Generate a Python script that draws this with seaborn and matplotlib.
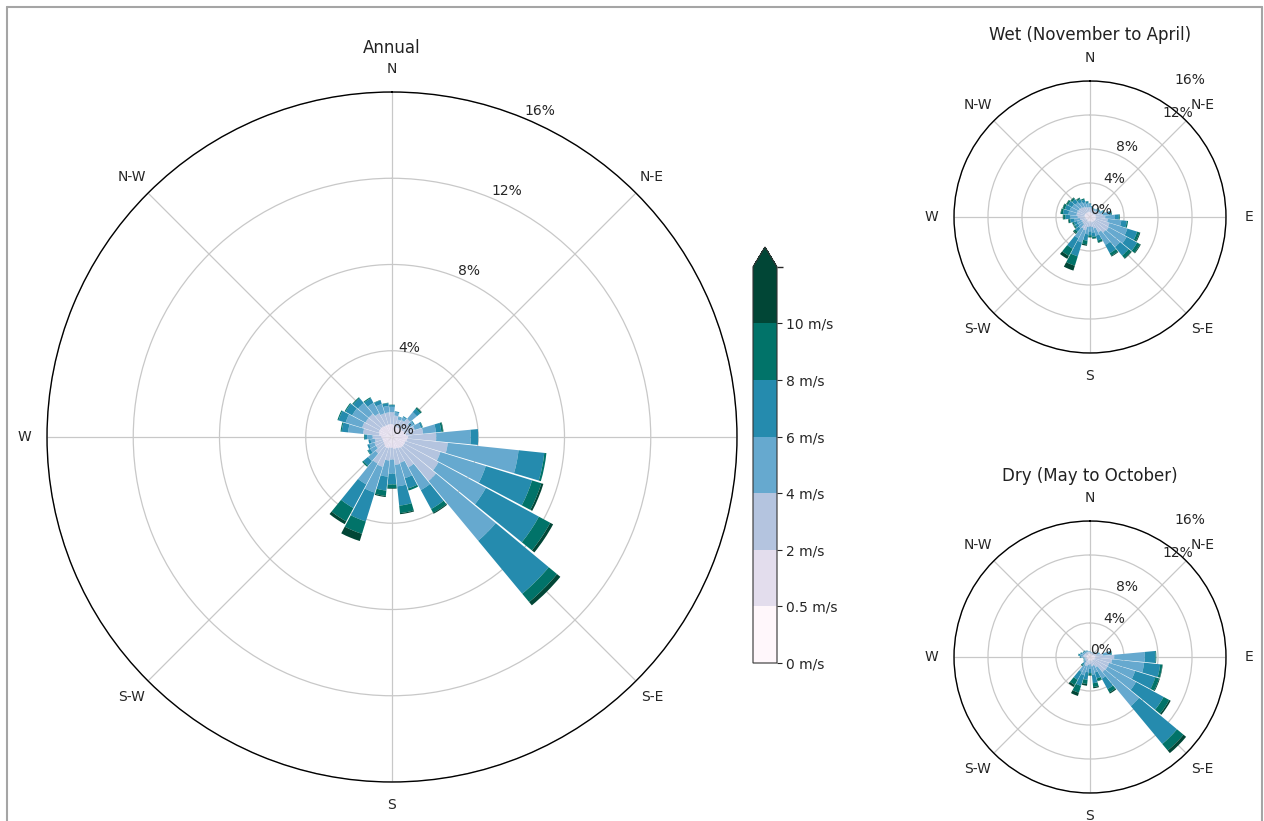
import numpy as np
import matplotlib
matplotlib.use("Agg")
import matplotlib.pyplot as plt
import seaborn as sns
from matplotlib.colors import ListedColormap, BoundaryNorm
from matplotlib.cm import ScalarMappable
from matplotlib.lines import Line2D

sns.set_theme(style="white")
plt.rcParams["font.family"] = ["DejaVu Sans"]

# ---------------------------------------------------------------------------
# Wind direction sectors (degrees clockwise from north) and speed classes
# ---------------------------------------------------------------------------
directions = [0.0, 11.25, 22.5, 33.75, 45.0, 56.25, 67.5, 78.75,
              90.0, 101.25, 112.5, 123.75, 135.0, 146.25, 157.5, 168.75,
              180.0, 191.25, 202.5, 213.75, 225.0, 236.25, 247.5, 258.75,
              270.0, 281.25, 292.5, 303.75, 315.0, 326.25, 337.5, 348.75]
speed_bounds = [0, 0.5, 2, 4, 6, 8, 10]
speed_labels = ["0 m/s", "0.5 m/s", "2 m/s", "4 m/s", "6 m/s", "8 m/s", "10 m/s"]
compass_angles = [0, 45, 90, 135, 180, 225, 270, 315]
compass_labels = ["N", "N-E", "E", "S-E", "S", "S-W", "W", "N-W"]
radial_ticks = [0, 4, 8, 12, 16]
radial_labels = ["0%", "4%", "8%", "12%", "16%"]

# Where each percentage label sits: (bearing in degrees, radius in %)
annual_label_spots = [(22.5, 0), (4.2, 3.8), (22.5, 8), (22.5, 12), (22.5, 16)]
season_label_spots = [(22.5, 0), (22.5, 4), (22.5, 8), (36.6, 14.2), (32.9, 18.2)]

# ---------------------------------------------------------------------------
# Frequency (%) per sector for each speed class -- annual
# ---------------------------------------------------------------------------
annual_0_05 = [0.05, 0.05, 0.05, 0.05, 0.05, 0.05, 0.05, 0.05, 0.05, 0.05, 0.05, 0.05, 0.05, 0.05, 0.05, 0.05,
               0.05, 0.05, 0.05, 0.05, 0.05, 0.05, 0.05, 0.05, 0.05, 0.05, 0.05, 0.05, 0.05, 0.05, 0.05, 0.05]
annual_05_2 = [0.55, 0.50, 0.45, 0.45, 0.50, 0.50, 0.55, 0.60, 0.70, 0.65, 0.60, 0.60, 0.60, 0.55, 0.50, 0.50,
               0.45, 0.45, 0.50, 0.50, 0.45, 0.40, 0.40, 0.40, 0.45, 0.55, 0.60, 0.60, 0.60, 0.55, 0.55, 0.55]
annual_2_4 = [0.55, 0.45, 0.35, 0.40, 0.55, 0.40, 0.50, 0.80, 1.30, 1.90, 1.70, 1.80, 2.00, 1.00, 0.70, 0.75,
              0.55, 0.60, 0.90, 0.85, 0.50, 0.40, 0.40, 0.35, 0.40, 0.75, 0.80, 0.75, 0.75, 0.65, 0.55, 0.55]
annual_4_6 = [0.25, 0.15, 0.12, 0.15, 0.40, 0.20, 0.30, 0.60, 1.60, 3.30, 2.20, 2.50, 3.60, 1.20, 0.75, 1.00,
              0.65, 0.75, 1.25, 1.10, 0.45, 0.30, 0.25, 0.20, 0.25, 0.70, 0.80, 0.70, 0.65, 0.55, 0.45, 0.30]
annual_6_8 = [0.08, 0.05, 0.03, 0.05, 0.20, 0.05, 0.08, 0.25, 0.35, 1.20, 2.25, 2.80, 3.20, 1.00, 0.50, 0.90,
              0.50, 0.65, 1.40, 1.25, 0.28, 0.12, 0.10, 0.10, 0.12, 0.30, 0.35, 0.35, 0.30, 0.25, 0.18, 0.13]
annual_8_10 = [0.02, 0.00, 0.00, 0.00, 0.08, 0.00, 0.02, 0.08, 0.00, 0.10, 0.45, 0.60, 0.50, 0.20, 0.10, 0.35,
               0.17, 0.25, 0.60, 0.70, 0.07, 0.03, 0.00, 0.00, 0.03, 0.05, 0.05, 0.05, 0.05, 0.05, 0.02, 0.02]
annual_10_up = [0.00, 0.00, 0.00, 0.00, 0.02, 0.00, 0.00, 0.02, 0.00, 0.00, 0.10, 0.15, 0.20, 0.05, 0.00, 0.05,
                0.03, 0.05, 0.35, 0.15, 0.00, 0.00, 0.00, 0.00, 0.00, 0.00, 0.00, 0.00, 0.00, 0.00, 0.00, 0.00]

# Wet season (November to April)
wet_0_05 = [0.05, 0.05, 0.05, 0.05, 0.05, 0.05, 0.05, 0.05, 0.05, 0.05, 0.05, 0.05, 0.05, 0.05, 0.05, 0.05,
            0.05, 0.05, 0.05, 0.05, 0.05, 0.05, 0.05, 0.05, 0.05, 0.05, 0.05, 0.05, 0.05, 0.05, 0.05, 0.05]
wet_05_2 = [0.55, 0.50, 0.45, 0.45, 0.50, 0.50, 0.55, 0.60, 0.65, 0.65, 0.65, 0.65, 0.65, 0.60, 0.55, 0.50,
            0.45, 0.45, 0.50, 0.50, 0.45, 0.45, 0.45, 0.50, 0.55, 0.60, 0.60, 0.60, 0.60, 0.55, 0.55, 0.55]
wet_2_4 = [0.55, 0.45, 0.40, 0.40, 0.45, 0.45, 0.60, 0.85, 1.10, 1.40, 1.70, 1.80, 1.70, 1.40, 0.80, 0.65,
           0.60, 0.70, 1.10, 1.00, 0.60, 0.55, 0.55, 0.65, 0.85, 0.95, 0.95, 0.90, 0.85, 0.75, 0.65, 0.55]
wet_4_6 = [0.30, 0.20, 0.15, 0.15, 0.25, 0.25, 0.40, 0.70, 1.10, 1.60, 2.20, 2.40, 2.20, 1.70, 0.90, 0.65,
           0.60, 0.85, 1.50, 1.30, 0.65, 0.55, 0.55, 0.65, 0.85, 0.95, 0.90, 0.85, 0.75, 0.65, 0.55, 0.45]
wet_6_8 = [0.12, 0.08, 0.05, 0.05, 0.12, 0.12, 0.15, 0.30, 0.50, 0.65, 1.20, 1.40, 1.30, 1.10, 0.60, 0.50,
           0.45, 0.75, 1.70, 1.40, 0.50, 0.40, 0.40, 0.50, 0.60, 0.65, 0.60, 0.55, 0.50, 0.40, 0.35, 0.25]
wet_8_10 = [0.03, 0.02, 0.00, 0.00, 0.03, 0.03, 0.05, 0.08, 0.10, 0.15, 0.30, 0.40, 0.40, 0.35, 0.25, 0.20,
            0.20, 0.45, 1.15, 0.95, 0.25, 0.15, 0.15, 0.20, 0.25, 0.25, 0.25, 0.20, 0.20, 0.15, 0.15, 0.05]
wet_10_up = [0.00, 0.00, 0.00, 0.00, 0.00, 0.00, 0.00, 0.02, 0.00, 0.00, 0.10, 0.10, 0.10, 0.10, 0.05, 0.05,
             0.05, 0.15, 0.60, 0.40, 0.10, 0.05, 0.05, 0.05, 0.05, 0.05, 0.05, 0.05, 0.05, 0.05, 0.00, 0.00]

# Dry season (May to October)
dry_0_05 = [0.05, 0.05, 0.05, 0.05, 0.05, 0.05, 0.05, 0.05, 0.05, 0.05, 0.05, 0.05, 0.05, 0.05, 0.05, 0.05,
            0.05, 0.05, 0.05, 0.05, 0.05, 0.05, 0.05, 0.05, 0.05, 0.05, 0.05, 0.05, 0.05, 0.05, 0.05, 0.05]
dry_05_2 = [0.35, 0.30, 0.30, 0.30, 0.35, 0.35, 0.45, 0.55, 0.60, 0.55, 0.50, 0.50, 0.45, 0.45, 0.40, 0.40,
            0.35, 0.35, 0.40, 0.40, 0.30, 0.30, 0.30, 0.30, 0.35, 0.40, 0.35, 0.35, 0.35, 0.35, 0.35, 0.35]
dry_2_4 = [0.20, 0.18, 0.18, 0.18, 0.25, 0.25, 0.40, 0.90, 2.20, 2.00, 1.80, 1.80, 1.80, 0.90, 0.60, 0.65,
           0.45, 0.55, 0.70, 0.60, 0.30, 0.25, 0.22, 0.22, 0.35, 0.40, 0.35, 0.28, 0.28, 0.25, 0.22, 0.20]
dry_4_6 = [0.08, 0.06, 0.06, 0.06, 0.12, 0.12, 0.22, 0.80, 3.60, 3.80, 3.20, 3.80, 5.20, 1.50, 0.85, 1.00,
           0.55, 0.85, 1.10, 0.95, 0.35, 0.20, 0.15, 0.15, 0.28, 0.35, 0.28, 0.20, 0.20, 0.17, 0.13, 0.08]
dry_6_8 = [0.02, 0.01, 0.01, 0.01, 0.03, 0.03, 0.08, 0.25, 1.25, 1.90, 2.50, 3.70, 5.80, 1.40, 0.75, 1.00,
           0.50, 0.90, 1.30, 1.05, 0.25, 0.08, 0.06, 0.06, 0.13, 0.15, 0.13, 0.10, 0.10, 0.07, 0.05, 0.02]
dry_8_10 = [0.00, 0.00, 0.00, 0.00, 0.00, 0.00, 0.00, 0.05, 0.10, 0.25, 0.45, 0.75, 1.00, 0.45, 0.30, 0.45,
            0.25, 0.50, 0.85, 0.70, 0.12, 0.02, 0.02, 0.02, 0.04, 0.05, 0.04, 0.02, 0.02, 0.01, 0.00, 0.00]
dry_10_up = [0.00, 0.00, 0.00, 0.00, 0.00, 0.00, 0.00, 0.00, 0.00, 0.05, 0.10, 0.20, 0.40, 0.15, 0.05, 0.15,
             0.05, 0.20, 0.40, 0.25, 0.03, 0.00, 0.00, 0.00, 0.00, 0.00, 0.00, 0.00, 0.00, 0.00, 0.00, 0.00]

annual_layers = [annual_0_05, annual_05_2, annual_2_4, annual_4_6, annual_6_8, annual_8_10, annual_10_up]
wet_layers = [wet_0_05, wet_05_2, wet_2_4, wet_4_6, wet_6_8, wet_8_10, wet_10_up]
dry_layers = [dry_0_05, dry_05_2, dry_2_4, dry_4_6, dry_6_8, dry_8_10, dry_10_up]

# One colour per speed class, sampled across the PuBuGn map
pubugn = sns.color_palette("PuBuGn", as_cmap=True)
speed_colors = [pubugn(v) for v in np.linspace(0, 1, len(annual_layers))]

W, H = 1264, 821
fig = plt.figure(figsize=(W / 100, H / 100), dpi=100)
fig.patch.set_facecolor("white")


def px_box(x0, y0, x1, y1):
    """Figure-fraction rectangle from pixel corners (top-left origin)."""
    return [x0 / W, (H - y1) / H, (x1 - x0) / W, (y1 - y0) / H]


def draw_rose(rect, layers, title, title_y, label_spots):
    ax = fig.add_axes(rect, projection="polar")
    ax.set_theta_zero_location("N")
    ax.set_theta_direction(-1)
    theta = np.deg2rad(directions)
    width = np.deg2rad(11.25) * 0.94
    bottom = np.zeros(len(directions))
    for values, color in zip(layers, speed_colors):
        vals = np.asarray(values)
        ax.bar(theta, vals, width=width, bottom=bottom, color=color,
               edgecolor="none", linewidth=0, zorder=2)
        bottom = bottom + vals
    ax.set_ylim(0, 16)
    ax.set_xticks(np.deg2rad(compass_angles))
    ax.set_xticklabels(compass_labels, fontsize=10)
    # radial grid circles from the ticks, percentage labels drawn above the bars
    ax.set_yticks(radial_ticks)
    ax.set_yticklabels([])
    for (bearing, r), lab in zip(label_spots, radial_labels):
        ax.text(np.deg2rad(bearing), r, lab, ha="left", va="bottom",
                fontsize=10, color="#262626", zorder=5, clip_on=False)
    ax.tick_params(axis="x", length=0, pad=9.4)
    ax.grid(True, color="#c8c8c8", linewidth=0.9)
    ax.set_axisbelow(True)
    ax.spines["polar"].set_color("black")
    ax.spines["polar"].set_linewidth(1.0)
    ax.set_facecolor("white")
    ax.set_title(title, y=title_y, va="center", pad=0, fontsize=12, color="#222222")
    return ax


ax_annual = draw_rose(px_box(47, 92, 737, 782), annual_layers, "Annual", 1.064,
                      annual_label_spots)
ax_wet = draw_rose(px_box(954, 81, 1226, 353), wet_layers, "Wet (November to April)", 1.169,
                   season_label_spots)
ax_dry = draw_rose(px_box(954, 521, 1226, 793), dry_layers, "Dry (May to October)", 1.165,
                   season_label_spots)

# Speed colour bar with an open-ended top class
cmap = ListedColormap(speed_colors).with_extremes(over=speed_colors[-1])
norm = BoundaryNorm(speed_bounds + [12], cmap.N)
cax = fig.add_axes(px_box(753, 247, 777, 663))
cb = fig.colorbar(ScalarMappable(norm=norm, cmap=cmap), cax=cax,
                  extend="max", spacing="uniform", ticks=speed_bounds)
cb.ax.set_yticklabels(speed_labels, fontsize=10)
cb.ax.tick_params(length=3.5, width=0.8, pad=3)
cb.outline.set_linewidth(0.8)
cb.outline.set_edgecolor("#333333")

# Thin grey frame around the figure
frame_kw = dict(color="#a5a5a5", linewidth=1.5, transform=fig.transFigure)
fig.add_artist(Line2D([7 / W, 7 / W], [0, 1 - 7 / H], **frame_kw))
fig.add_artist(Line2D([7 / W, 1262 / W], [1 - 7 / H, 1 - 7 / H], **frame_kw))
fig.add_artist(Line2D([1262 / W, 1262 / W], [0, 1 - 7 / H], **frame_kw))

fig.savefig("out.png", dpi=100, facecolor="white")
